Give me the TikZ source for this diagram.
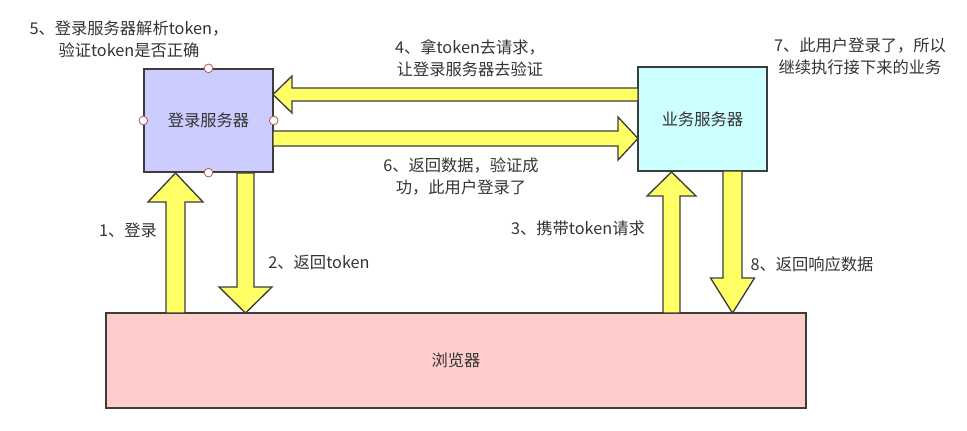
\documentclass[tikz,border=0pt]{standalone}
\usepackage{fontspec}
\setmainfont{Noto Sans CJK SC}
\definecolor{edgegray}{HTML}{3C3C3C}
\definecolor{textgray}{HTML}{333333}
\definecolor{arrowyellow}{HTML}{FFFF66}
\definecolor{portred}{HTML}{B85450}
% vertical fat arrow: x, y start, y head base, y tip, shaft half width, head half width
\newcommand{\varrow}[6]{%
  \draw[fat] (#1-#5,#2) -- (#1-#5,#3) -- (#1-#6,#3) -- (#1,#4) -- (#1+#6,#3) -- (#1+#5,#3) -- (#1+#5,#2) -- cycle;}
% horizontal fat arrow: y, x start, x head base, x tip, shaft half width, head half width
\newcommand{\harrow}[6]{%
  \draw[fat] (#2,#1-#5) -- (#3,#1-#5) -- (#3,#1-#6) -- (#4,#1) -- (#3,#1+#6) -- (#3,#1+#5) -- (#2,#1+#5) -- cycle;}
\begin{document}
\begin{tikzpicture}[x=0.75pt,y=-0.75pt,
    every node/.style={font=\fontsize{12.2}{16.5}\selectfont, text=textgray},
    box/.style={draw=edgegray, line width=1pt, inner sep=0pt},
    fat/.style={draw=edgegray, fill=arrowyellow, line width=1pt, line join=miter},
    port/.style={draw=portred, fill=white, circle, line width=0.6pt, minimum size=6.5pt, inner sep=0pt},
    note/.style={align=center, inner sep=0pt}]
  \useasboundingbox (0,0) rectangle (967,431);
  \node (login) [box, fill={rgb,255:red,204;green,204;blue,255}, minimum width=96.75pt, minimum height=77.25pt] at (208.5,120.5) {登录服务器};
  \node (biz) [box, fill={rgb,255:red,204;green,255;blue,255}, minimum width=96.75pt, minimum height=78pt] at (702.5,119) {业务服务器};
  \node (browser) [box, fill={rgb,255:red,255;green,204;blue,204}, minimum width=525pt, minimum height=71.25pt] at (456,360.5) {浏览器};
  % arrows
  \varrow{175.5}{313}{202}{173}{9.5}{27.5}
  \varrow{245.5}{173}{287}{313}{8.5}{26.5}
  \varrow{671.5}{313}{196}{172}{8.5}{24.5}
  \varrow{732.5}{171}{278}{313}{9.5}{22}
  \harrow{94.5}{638}{292}{273}{6.5}{18.5}
  \harrow{138.5}{273}{618}{638}{7.5}{21.5}
  % ports
  \node (pn) [port] at (login.north) {};
  \node (pw) [port] at (login.west) {};
  \node (pe) [port] at (login.east) {};
  \node (ps) [port] at (login.south) {};
  % labels
  \node (l5) [note] at (129,39) {5、登录服务器解析token，\\验证token是否正确};
  \node (l4) [note] at (470,58) {4、拿token去请求，\\让登录服务器去验证};
  \node (l7) [note] at (860,56) {7、此用户登录了，所以\\继续执行接下来的业务};
  \node (l6) [note] at (461,176) {6、返回数据，验证成\\功，此用户登录了};
  \node (l1) [note] at (128,230) {1、登录};
  \node (l2) [note] at (319,262) {2、返回token};
  \node (l3) [note] at (578,228) {3、携带token请求};
  \node (l8) [note] at (812,264) {8、返回响应数据};
\end{tikzpicture}
\end{document}
